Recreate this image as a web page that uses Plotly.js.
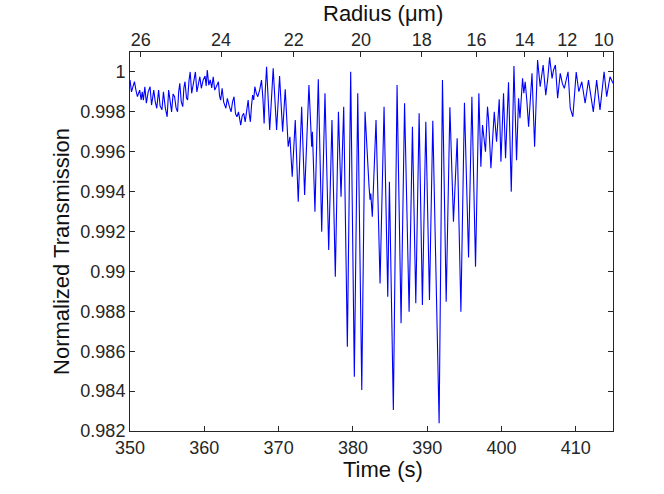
<!DOCTYPE html>
<html>
<head>
<meta charset="utf-8">
<script src="https://cdn.plot.ly/plotly-3.0.1.min.js"></script>
<style>html,body{margin:0;padding:0;background:#fff;}#chart{width:664px;height:494px;}</style>
</head>
<body>
<div id="chart"></div>
<script>
// Time (s) samples
const timeS = [
350.0,350.2,350.4,350.6,350.8,351.0,351.3,351.5,351.65,351.8,352.0,352.2,352.45,352.7,352.9,353.2,353.4,353.6,353.85,354.05,
354.3,354.5,354.75,355.0,355.2,355.4,355.6,355.8,356.0,356.2,356.4,356.55,356.7,356.9,357.1,357.25,357.4,357.6,357.75,357.95,
358.1,358.3,358.5,358.65,358.8,359.0,359.2,359.4,359.6,359.85,360.1,360.25,360.4,360.6,360.8,361.0,361.2,361.4,361.65,361.9,
362.05,362.2,362.4,362.6,362.9,363.1,363.35,363.6,363.8,364.0,364.2,364.4,364.6,364.9,365.1,365.3,365.5,365.7,365.9,366.05,
366.2,366.35,366.5,366.65,366.8,367.0,367.2,367.45,367.7,367.9,368.05,368.2,368.38,368.8,
369.27,369.73,370.13,370.54,370.89,371.29,371.52,371.83,372.24,372.64,373.1,373.5,374.08,374.45,374.55,374.89,375.34,375.8,
376.24,376.74,377.18,377.63,378.05,378.4,378.76,379.25,379.7,380.19,380.65,381.19,381.63,382.17,382.3,382.4,382.61,383.11,
383.65,384.19,384.69,384.91,385.44,385.94,386.48,386.95,387.56,388.01,388.46,388.91,389.35,389.81,390.3,390.75,391.6,392.05,
392.55,393.05,393.53,394.03,394.53,395.01,395.56,396.01,396.5,396.95,397.22,397.44,397.84,398.11,398.25,398.57,399.02,399.33,
399.69,399.92,400.27,400.54,400.94,401.31,401.67,402.02,402.29,402.48,402.83,403.0,403.18,403.4,403.64,404.1,404.45,404.85,
405.2,405.6,405.95,406.2,406.47,406.8,407.0,407.25,407.55,407.9,408.2,408.45,408.95,409.25,409.6,410.05,410.4,410.8,411.25,
411.7,412.0,412.35,412.8,413.25,413.8,414.15,414.6,415.0
];
// Normalized transmission values
const transmission = [
0.9996,0.9990,0.99926,0.99951,0.99909,0.99876,0.99909,0.99860,0.99900,0.99859,0.99926,0.99843,0.99900,0.99926,0.99834,0.99909,0.99850,0.99818,0.99909,0.99830,
0.99810,0.99900,0.99820,0.99775,0.99909,0.99840,0.99800,0.99890,0.99876,0.99820,0.99800,0.99900,0.99943,0.99850,0.99826,0.99920,0.99951,0.99870,0.99859,0.99960,
1.00000,0.99893,0.99940,0.99980,1.00000,0.99900,0.99940,0.99976,0.99918,0.99960,0.99980,0.99930,1.00010,0.99934,0.99960,0.99920,0.99976,0.99909,0.99930,0.99951,
0.99880,0.99859,0.99918,0.99850,0.99818,0.99868,0.99830,0.99800,0.99850,0.99876,0.99790,0.99775,0.99800,0.99733,0.99780,0.99793,0.99750,0.99800,0.99859,0.99790,
0.99750,0.99830,0.99884,0.99860,0.99926,0.99893,0.99876,0.99910,0.99959,0.99860,0.99742,0.99900,1.00026,0.99709,
1.00018,0.99709,0.99979,0.99700,0.99913,0.99625,0.99675,0.99475,0.99759,0.99349,0.99826,0.99383,0.99934,0.99625,0.99700,0.99299,0.99963,0.99199,
0.99893,0.99107,0.99759,0.98973,0.99800,0.99374,0.99826,0.98623,1.00001,0.98472,0.99893,0.98406,0.99800,0.99425,0.99360,0.99390,0.99274,0.99759,
0.98940,0.99826,0.98873,0.99450,0.98305,0.99934,0.98740,0.99843,0.98798,0.99725,0.98840,0.99793,0.98832,0.99750,0.98857,0.99755,0.98239,0.99959,
0.98848,0.99823,0.99249,0.99667,0.98798,0.99846,0.99070,0.99876,0.99024,0.99893,0.99525,0.99734,0.99600,0.99826,0.99768,0.99517,0.99800,0.99650,
0.99863,0.99550,0.99893,0.99567,0.99948,0.99400,1.00030,0.99558,0.99868,0.99768,0.99968,0.99893,0.99951,0.99859,0.99725,0.99993,0.99625,1.00060,
0.99926,1.00035,0.99884,0.99960,1.00073,0.99968,1.00010,1.00035,0.99868,0.99993,0.99940,0.99918,1.00001,0.99818,0.99775,1.00000,0.99901,0.99951,0.99843,
0.99959,0.99880,0.99800,0.99959,0.99810,1.00001,0.99876,0.99976,0.99943
];
// Bottom axis ticks
const timeTicks = [350,360,370,380,390,400,410];
// Y axis ticks
const yTickVals = [0.982,0.984,0.986,0.988,0.99,0.992,0.994,0.996,0.998,1];
const yTickText = ["0.982","0.984","0.986","0.988","0.99","0.992","0.994","0.996","0.998","1"];
// Top axis: radius labels and the time where each sits
const radiusLabels = ["26","24","22","20","18","16","14","12","10"];
const radiusTickTimes = [351.44,362.26,372.05,381.08,389.25,396.62,403.13,408.84,413.77];
// Axis titles
const xTitle = "Time (s)";
const x2Title = "Radius (μm)";
const yTitle = "Normalized Transmission";

const font = "Liberation Sans, Arial, sans-serif";
const axCol = "#262626";
const titleFont = {size: 22, family: font, color: "#111"};

const traces = [
  { // invisible copy that anchors the top (radius) axis
    x: timeS, y: transmission, xaxis: "x2", yaxis: "y", type: "scatter", mode: "lines",
    line: {color: "rgba(0,0,0,0)", width: 0}, hoverinfo: "skip", showlegend: false
  },
  {
    x: timeS, y: transmission, type: "scatter", mode: "lines",
    line: {color: "#0000ff", width: 1.1}, hoverinfo: "skip", showlegend: false
  }
];

const layout = {
  width: 664, height: 494,
  margin: {l: 130, r: 51, t: 52, b: 63},
  paper_bgcolor: "#ffffff", plot_bgcolor: "#ffffff",
  font: {family: font, color: axCol, size: 18},
  showlegend: false,
  xaxis: {
    range: [350, 415], tickvals: timeTicks, ticktext: timeTicks.map(String),
    ticks: "inside", ticklen: 5, tickcolor: axCol, tickwidth: 1,
    showline: true, linecolor: axCol, linewidth: 1, mirror: true,
    showgrid: false, zeroline: false,
    tickfont: {size: 18, family: font, color: axCol}
  },
  xaxis2: {
    overlaying: "x", side: "top", anchor: "y",
    range: [350, 415], tickvals: radiusTickTimes, ticktext: radiusLabels,
    ticks: "inside", ticklen: 5, tickcolor: axCol, tickwidth: 1,
    showline: false, showgrid: false, zeroline: false, ticklabelstandoff: 1,
    tickfont: {size: 18, family: font, color: axCol}
  },
  yaxis: {
    range: [0.982, 1.001], tickvals: yTickVals, ticktext: yTickText,
    ticks: "inside", ticklen: 5, tickcolor: axCol, tickwidth: 1,
    showline: true, linecolor: axCol, linewidth: 1, mirror: "ticks",
    showgrid: false, zeroline: false,
    tickfont: {size: 18, family: font, color: axCol}
  },
  annotations: [
    {text: xTitle, xref: "paper", yref: "paper", x: 0.5238, y: -0.1003, xanchor: "center", yanchor: "middle", showarrow: false, font: titleFont},
    {text: x2Title, xref: "paper", yref: "paper", x: 0.5238, y: 1.1003, xanchor: "center", yanchor: "middle", showarrow: false, font: titleFont},
    {text: yTitle, xref: "paper", yref: "paper", x: -0.1408, y: 0.475, xanchor: "center", yanchor: "middle", textangle: -90, showarrow: false, font: titleFont}
  ]
};

Plotly.newPlot("chart", traces, layout, {staticPlot: true, displayModeBar: false});
</script>
</body>
</html>
